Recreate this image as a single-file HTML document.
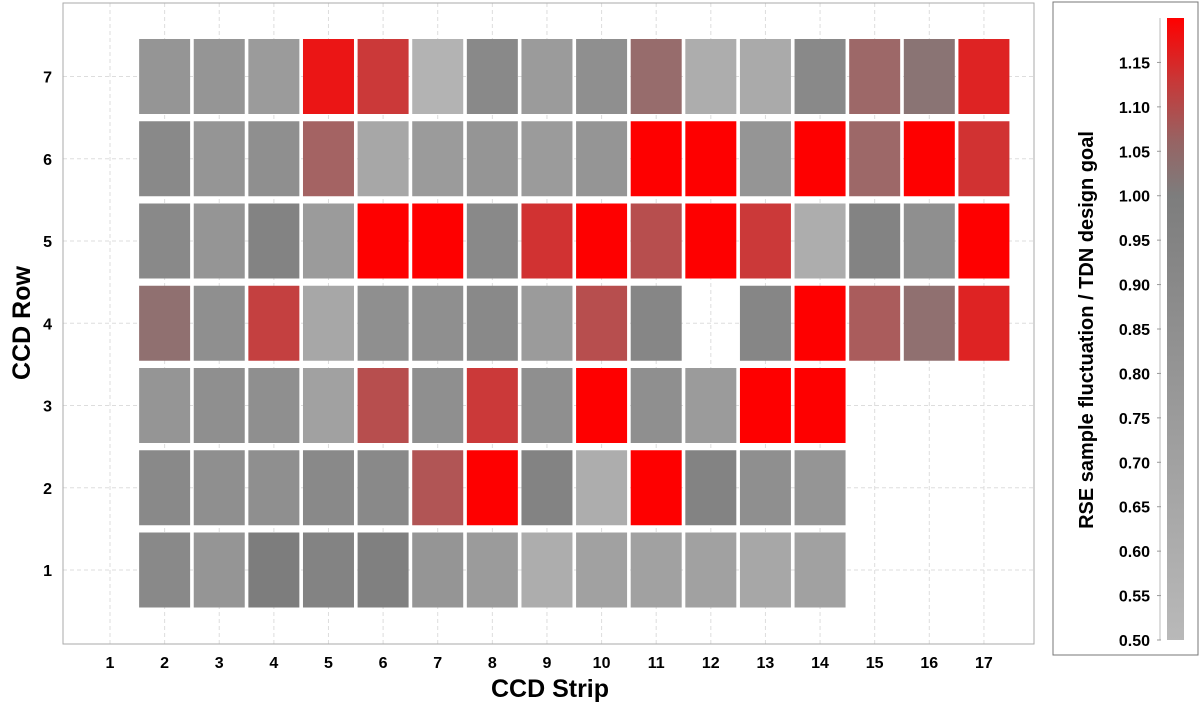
<!DOCTYPE html>
<html><head><meta charset="utf-8"><style>
body{margin:0;background:#fff;font-family:"Liberation Sans",sans-serif;}
</style></head><body>
<svg id="chart" width="1200" height="710" xmlns="http://www.w3.org/2000/svg" font-family="Liberation Sans, sans-serif">
<defs><linearGradient id="cg" x1="0" y1="1" x2="0" y2="0">
<stop offset="0" stop-color="rgb(185,185,185)"/><stop offset="0.714" stop-color="rgb(125,125,125)"/><stop offset="0.80" stop-color="rgb(150,100,100)"/><stop offset="0.90" stop-color="rgb(200,55,55)"/><stop offset="1" stop-color="rgb(255,0,0)"/>
</linearGradient></defs>
<g id="grid"></g>
<g id="cells"></g>
<rect x="63" y="3" width="971" height="641" fill="none" stroke="#aaa" stroke-width="1"/>
<g id="xt" font-size="16" font-weight="bold" text-anchor="middle"></g>
<g id="yt" font-size="16" font-weight="bold" text-anchor="end"></g>
<text x="550" y="697" font-size="25" font-weight="bold" text-anchor="middle">CCD Strip</text>
<text transform="translate(30,323) rotate(-90)" font-size="25" font-weight="bold" text-anchor="middle">CCD Row</text>
<g>
<rect x="1053" y="2" width="145" height="653" fill="none" stroke="#777" stroke-width="1"/>
<rect x="1167" y="18" width="17" height="622" fill="url(#cg)"/>
<line x1="1160" y1="18" x2="1160" y2="640" stroke="#bbb"/>
<g id="ct" font-size="16" font-weight="bold" text-anchor="end"></g>
<text transform="translate(1093,330) rotate(-90)" font-size="20" font-weight="bold" text-anchor="middle">RSE sample fluctuation / TDN design goal</text>
</g>
</svg>
<script>
const strips=[1,2,3,4,5,6,7,8,9,10,11,12,13,14,15,16,17];
const rows=[1,2,3,4,5,6,7];
// values per row for strips 2..17 (null = missing)
const row7=[0.8,0.8,0.75,1.17,1.12,0.55,0.9,0.75,0.85,1.04,0.6,0.62,0.9,1.05,1.02,1.15];
const row6=[0.9,0.8,0.85,1.06,0.65,0.75,0.8,0.75,0.8,1.2,1.2,0.8,1.2,1.05,1.2,1.13];
const row5=[0.9,0.8,0.95,0.75,1.2,1.2,0.9,1.13,1.2,1.09,1.2,1.12,0.6,0.95,0.85,1.2];
const row4=[1.03,0.85,1.11,0.65,0.85,0.85,0.9,0.75,1.09,0.92,null,0.92,1.2,1.07,1.03,1.15];
const row3=[0.8,0.85,0.85,0.7,1.09,0.85,1.12,0.85,1.2,0.85,0.75,1.2,1.2];
const row2=[0.9,0.85,0.85,0.9,0.9,1.08,1.2,0.95,0.6,1.2,0.95,0.85,0.8];
const row1=[0.9,0.8,1.0,0.95,0.97,0.8,0.75,0.6,0.7,0.7,0.7,0.65,0.7];
const cbTicks=[0.50,0.55,0.60,0.65,0.70,0.75,0.80,0.85,0.90,0.95,1.00,1.05,1.10,1.15];
const data={1:row1,2:row2,3:row3,4:row4,5:row5,6:row6,7:row7};
const NS="http://www.w3.org/2000/svg";
const xS=s=>110+(s-1)*54.62, yS=r=>570-(r-1)*82.25, cS=v=>640-(v-0.5)/0.7*622;
function col(v){v=Math.max(0.5,Math.min(1.2,v));
 if(v<=1){const g=185-(v-0.5)/0.5*60;return `rgb(${g|0},${g|0},${g|0})`;}
 const t=(v-1)/0.2;const r=125+130*t, o=t<0.3?125-83*t:100-100*(t-0.3)/0.7;return `rgb(${r|0},${o|0},${o|0})`;}
function mk(t,a,p){const e=document.createElementNS(NS,t);for(const k in a)e.setAttribute(k,a[k]);p.appendChild(e);return e;}
const grid=document.getElementById('grid'),cells=document.getElementById('cells');
strips.forEach(s=>{const l=mk('line',{x1:xS(s),x2:xS(s),y1:3,y2:644,stroke:'#ddd','stroke-dasharray':'4,3'},grid);

const t=mk('text',{x:xS(s),y:668},document.getElementById('xt'));t.textContent=s;
});
rows.forEach(r=>{const l=mk('line',{x1:63,x2:1034,y1:yS(r),y2:yS(r),stroke:'#ddd','stroke-dasharray':'4,3'},grid);

const t=mk('text',{x:52,y:yS(r)+6},document.getElementById('yt'));t.textContent=r;

data[r].forEach((v,i)=>{if(v==null)return;const s=i+2;
const c=mk('rect',{x:xS(s)-25.5,y:yS(r)-37.5,width:51,height:75,fill:col(v)},cells);
});});
cbTicks.forEach(v=>{const g=document.getElementById('ct');
const l=mk('line',{x1:1157,x2:1161,y1:cS(v),y2:cS(v),stroke:'#999'},g);

const t=mk('text',{x:1150,y:cS(v)+6},g);t.textContent=v.toFixed(2);
});
</script>
</body></html>
